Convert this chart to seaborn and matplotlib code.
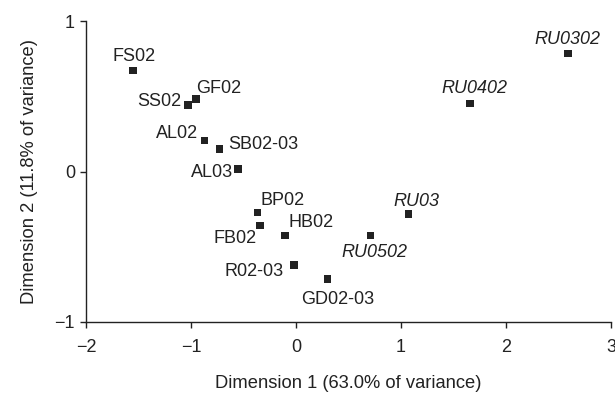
import seaborn as sns
import pandas as pd
import matplotlib.pyplot as plt

# site/year codes and their scores on the first two dimensions
sites = ['FS02', 'SS02', 'GF02', 'AL02', 'SB02-03', 'AL03', 'BP02', 'FB02',
         'HB02', 'R02-03', 'GD02-03', 'RU0502', 'RU03', 'RU0402', 'RU0302']
dim1 = [-1.55, -1.03, -0.95, -0.87, -0.73, -0.55, -0.365, -0.34,
        -0.105, -0.02, 0.30, 0.71, 1.07, 1.66, 2.59]
dim2 = [0.67, 0.443, 0.48, 0.205, 0.148, 0.015, -0.272, -0.36,
        -0.425, -0.623, -0.715, -0.425, -0.283, 0.452, 0.785]
italic_sites = ['RU0502', 'RU03', 'RU0402', 'RU0302']

# label centre offsets from the marker, in pixels
label_offsets = {
    'FS02': (0.5, 16), 'SS02': (-28.3, 5), 'GF02': (22.5, 12.3),
    'AL02': (-27.7, 9.2), 'SB02-03': (44.3, 6.6), 'AL03': (-26.5, -1.2),
    'BP02': (25.3, 14), 'FB02': (-25.6, -10.4), 'HB02': (26.5, 14.6),
    'R02-03': (-39.5, -3.8), 'GD02-03': (10, -18), 'RU0502': (4.3, -15.4),
    'RU03': (8, 15), 'RU0402': (4.3, 17), 'RU0302': (-0.6, 15.4),
}


def main():
    df = pd.DataFrame({'site': sites, 'dim1': dim1, 'dim2': dim2})

    sns.set_style('ticks')
    plt.rcParams['font.family'] = ['Liberation Sans', 'DejaVu Sans']
    plt.rcParams['text.color'] = '#222222'
    plt.rcParams['axes.labelcolor'] = '#222222'
    plt.rcParams['xtick.color'] = '#222222'
    plt.rcParams['ytick.color'] = '#222222'

    fig = plt.figure(figsize=(6.15, 3.96), dpi=100)
    ax = fig.add_axes([86 / 615, 1 - 322 / 396, 525 / 615, 301 / 396])

    sns.scatterplot(data=df, x='dim1', y='dim2', marker='s', s=30,
                    color='#222222', edgecolor='none', ax=ax, legend=False)

    for name, x, y in zip(df['site'], df['dim1'], df['dim2']):
        dx, dy = label_offsets[name]
        ax.annotate(name, (x, y), xytext=(dx, dy - 6.5),
                    textcoords='offset pixels', ha='center', va='baseline',
                    fontsize=13,
                    style='italic' if name in italic_sites else 'normal')

    ax.set_xlim(-2, 3)
    ax.set_ylim(-1, 1)
    ax.set_xticks([-2, -1, 0, 1, 2, 3])
    ax.set_yticks([-1, 0, 1])
    ax.tick_params(labelsize=13, length=4, width=1, direction='out')
    ax.tick_params(axis='x', pad=8)
    ax.tick_params(axis='y', pad=4)
    ax.set_xlabel('Dimension 1 (63.0% of variance)', fontsize=13.2, labelpad=14)
    ax.set_ylabel('Dimension 2 (11.8% of variance)', fontsize=13.2, labelpad=12)
    for side in ['left', 'bottom']:
        ax.spines[side].set_linewidth(1.0)
        ax.spines[side].set_color('#222222')
    sns.despine(ax=ax)

    fig.savefig('out.png', dpi=100)


main()
